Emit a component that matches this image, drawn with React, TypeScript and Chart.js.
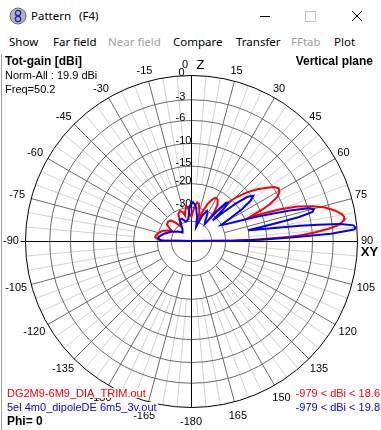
import React, { useEffect, useRef } from "react";
import { Chart, registerables } from "chart.js";

Chart.register(...registerables);

// ---------- data ----------
const NORM_DBI = 19.9;
const ringLevels = [0, -3, -6, -10, -15, -20, -30];
const extraRingLevels = [-40];
const angleLabels = [0, 15, 30, 45, 60, 75, 90, 105, 120, 135, 150, 165, -180, -165, -150, -135, -120, -105, -90, -75, -60, -45, -30, -15];

const redName = "DG2M9-6M9_DIA_TRIM.out";
const blueName = "5el 4m0_dipoleDE 6m5_3v.out";
const redRange = "-979 < dBi < 18.6";
const blueRange = "-979 < dBi < 19.8";
const infoLines = ["Norm-All : 19.9 dBi", "Freq=50.2"];

// elevation angle from zenith (deg) and total gain (dBi)
const redAngles = [90, 89.5, 89, 88.5, 88, 87.5, 87, 86, 85, 84, 83, 82, 81, 80, 78, 76, 74, 72, 70.5, 69.5, 68.5, 67.8, 67, 66, 65, 63, 61, 59, 57, 55, 52, 49, 46, 43, 41, 40, 38.5, 36, 33, 30, 27, 24, 21, 19, 16, 12, 9, 6, 3, 1, -2, -5, -8, -11, -13, -16, -20, -25, -30, -35, -40, -45, -50, -56, -62, -66, -70, -75, -80, -84, -87, -89, -90];
const redGain = [-979, -4.9, 0.6, 4.0, 7.2, 10.1, 12.1, 14.5, 16.3, 17.6, 18.2, 18.6, 18.6, 18.4, 17.6, 16.4, 14.7, 12.4, 9.3, 6.5, 3.5, 1.5, 3.5, 6.0, 7.6, 9.7, 10.5, 10.7, 10.1, 8.9, 7.0, 4.6, 1.5, -2.9, -8.1, -13.2, -8.1, -4.9, -3.3, -2.9, -4.1, -7.1, -12.6, -18.5, -12.6, -8.1, -7.6, -9.6, -13.9, -16.8, -15.3, -10.8, -9.6, -12.6, -15.3, -12.6, -11.3, -12.6, -18.5, -22.3, -16.8, -13.2, -12.6, -13.2, -18.5, -15.3, -12.6, -10.8, -9.6, -9.1, -10.8, -13.9, -979];

const blueAngles = [90, 89.5, 89, 88, 87, 86, 85.5, 84.5, 83.5, 82.7, 82, 81, 80, 79.4, 78.5, 77.5, 76.5, 75.5, 74.5, 73, 71.5, 69.5, 67, 64, 62, 60, 58, 56, 54, 52, 50, 48, 46.5, 45.5, 44, 42.5, 41, 39, 35, 31, 28, 24, 20, 14, 8, 3, -2, -7, -15, -22, -28, -35, -45, -55, -65, -75, -82, -86, -89, -90];
const blueGain = [-979, -7.1, 3.5, 10.3, 16.7, 19.6, 19.8, 19.6, 18.0, 15.0, 12.1, 6.5, 2.1, 0.0, 6.0, 12.1, 14.5, 14.8, 14.1, 11.2, 7.6, 3.0, -2.9, -8.1, -10.2, -4.9, 0.6, 4.0, 5.3, 4.0, 0.0, -7.1, -12.6, -4.9, -1.8, -2.1, -7.1, -18.5, -16.0, -11.3, -10.2, -13.9, -25.7, -16.0, -9.6, -7.6, -9.6, -18.5, -20.3, -16.8, -16.8, -25.7, -30.0, -24.0, -18.5, -13.9, -11.3, -10.8, -12.6, -979];

// ---------- helpers ----------
const LOG_K = -Math.log(0.9) / 2; // log scale: 0.9 per 2 dB
function radiusOf(dBn: number): number {
  if (dBn < -200) return 0;
  return Math.exp(LOG_K * dBn);
}
function toXY(angles: number[], gains: number[]) {
  return angles.map((a, i) => {
    const r = radiusOf(gains[i] - NORM_DBI);
    const t = (a * Math.PI) / 180;
    return { x: r * Math.sin(t), y: r * Math.cos(t) };
  });
}

const FONT = "'Liberation Sans', Arial, sans-serif";

const polarPlugin = {
  id: "polarGrid",
  beforeDatasetsDraw(chart: any) {
    const ctx: CanvasRenderingContext2D = chart.ctx;
    const xs = chart.scales.x;
    const ys = chart.scales.y;
    const cx = Math.floor(xs.getPixelForValue(0)) + 0.5;
    const cy = Math.floor(ys.getPixelForValue(0)) + 0.5;
    const R = xs.getPixelForValue(1) - xs.getPixelForValue(0);
    ctx.save();
    ctx.lineWidth = 1;
    const rLight = radiusOf(-20) * R;
    const rDark = radiusOf(-30) * R;
    ctx.strokeStyle = "#d2d2d2";
    for (let a = 0; a < 360; a += 5) {
      if (a % 15 === 0) continue;
      const t = (a * Math.PI) / 180;
      ctx.beginPath();
      ctx.moveTo(cx + rLight * Math.sin(t), cy - rLight * Math.cos(t));
      ctx.lineTo(cx + R * Math.sin(t), cy - R * Math.cos(t));
      ctx.stroke();
    }
    ctx.strokeStyle = "#6a6a6a";
    for (let a = 0; a < 360; a += 15) {
      if (a % 90 === 0) continue;
      const t = (a * Math.PI) / 180;
      ctx.beginPath();
      ctx.moveTo(cx + rDark * Math.sin(t), cy - rDark * Math.cos(t));
      ctx.lineTo(cx + R * Math.sin(t), cy - R * Math.cos(t));
      ctx.stroke();
    }
    [...ringLevels, ...extraRingLevels].forEach((lv) => {
      if (lv === 0) return;
      ctx.beginPath();
      ctx.arc(cx, cy, radiusOf(lv) * R, 0, Math.PI * 2);
      ctx.stroke();
    });
    ctx.strokeStyle = "#000";
    ctx.beginPath();
    ctx.arc(cx, cy, R, 0, Math.PI * 2);
    ctx.stroke();
    ctx.beginPath();
    ctx.moveTo(cx, cy - R);
    ctx.lineTo(cx, cy + R);
    ctx.moveTo(cx - R - 5, cy);
    ctx.lineTo(cx + R, cy);
    ctx.stroke();
    ctx.fillStyle = "#000";
    ctx.font = `11px ${FONT}`;
    ctx.textBaseline = "middle";
    ctx.textAlign = "left";
    ringLevels.forEach((lv) => {
      const y = cy - radiusOf(lv) * R - 3;
      ctx.fillText(String(lv), cx - (lv === 0 ? 13 : 16), y);
    });
    ctx.restore();
  },
  afterDatasetsDraw(chart: any) {
    const ctx: CanvasRenderingContext2D = chart.ctx;
    const xs = chart.scales.x;
    const ys = chart.scales.y;
    const cx = xs.getPixelForValue(0);
    const cy = ys.getPixelForValue(0);
    const R = xs.getPixelForValue(1) - cx;
    const s = R / 166;
    const W = chart.width;
    ctx.save();
    ctx.textBaseline = "middle";
    ctx.fillStyle = "#000";
    ctx.font = `11px ${FONT}`;
    ctx.textAlign = "center";
    angleLabels.forEach((a) => {
      const t = (a * Math.PI) / 180;
      const sx = Math.sin(t);
      const sy = -Math.cos(t);
      let x: number, y: number;
      if (a === 0) {
        x = cx - 6;
        y = cy - 176 * s;
      } else if (sy > 0.01) {
        x = cx + 181 * s * sx;
        y = cy + 181 * s * sy;
      } else {
        x = cx + (sx < 0 ? 180 : 176) * s * sx;
        y = cy + 176 * s * sy;
      }
      ctx.fillText(String(a), x, y);
    });
    ctx.font = `13px ${FONT}`;
    ctx.fillText("Z", cx + 9.5 * s, cy - 176 * s);
    ctx.font = `bold 13px ${FONT}`;
    ctx.fillText("XY", cx + 178.5 * s, cy + 11 * s);

    const top = chart.chartArea.top - 20;
    ctx.textAlign = "left";
    ctx.font = `bold 12px ${FONT}`;
    ctx.fillText("Tot-gain [dBi]", 5, top + 7);
    ctx.font = `11px ${FONT}`;
    ctx.fillText(infoLines[0], 5, top + 21);
    ctx.fillText(infoLines[1], 5, top + 35);
    ctx.textAlign = "right";
    ctx.font = `bold 12px ${FONT}`;
    ctx.fillText("Vertical plane", W - 8, top + 7);

    const H = chart.height;
    const drawBoxed = (txt: string, x: number, y: number, color: string, align: CanvasTextAlign, font: string) => {
      ctx.font = font;
      const w = ctx.measureText(txt).width;
      const x0 = align === "left" ? x : x - w;
      ctx.fillStyle = "#fff";
      ctx.fillRect(x0 - 1, y - 6, w + 2, 10);
      ctx.fillStyle = color;
      ctx.textAlign = align;
      ctx.fillText(txt, x, y);
    };
    drawBoxed(redName, 7, H - 36, "#ff0000", "left", `11px ${FONT}`);
    drawBoxed(blueName, 7, H - 22, "#0000ff", "left", `11px ${FONT}`);
    drawBoxed("Phi= 0", 7, H - 8, "#000", "left", `bold 12px ${FONT}`);
    drawBoxed(redRange, W - 1, H - 36, "#ff0000", "right", `11px ${FONT}`);
    drawBoxed(blueRange, W - 1, H - 22, "#0000ff", "right", `11px ${FONT}`);
    ctx.restore();
  },
};

function PolarChart() {
  const ref = useRef<HTMLCanvasElement | null>(null);
  useEffect(() => {
    if (!ref.current) return;
    const chart = new Chart(ref.current, {
      type: "scatter",
      data: {
        datasets: [
          {
            label: blueName,
            data: toXY(blueAngles, blueGain),
            showLine: true,
            borderColor: "#0000ff",
            backgroundColor: "#0000ff",
            borderWidth: 2,
            pointRadius: 0,
            tension: 0,
            order: 1,
          },
          {
            label: redName,
            data: toXY(redAngles, redGain),
            showLine: true,
            borderColor: "#ff0000",
            backgroundColor: "#ff0000",
            borderWidth: 2,
            pointRadius: 0,
            tension: 0,
            order: 2,
          },
        ],
      },
      options: {
        animation: false,
        responsive: false,
        devicePixelRatio: 1,
        layout: { padding: { left: 25, right: 24, top: 20, bottom: 23 } },
        scales: {
          x: { type: "linear", min: -1, max: 1, display: false },
          y: { type: "linear", min: -1, max: 1, display: false },
        },
        plugins: { legend: { display: false }, tooltip: { enabled: false } },
      },
      plugins: [polarPlugin],
    });
    return () => chart.destroy();
  }, []);
  return <canvas ref={ref} width={381} height={375} style={{ position: "absolute", left: 0, top: 55, width: 381, height: 375 }} />;
}

const menuItems: { t: string; x: number; dis?: boolean }[] = [
  { t: "Show", x: 9 },
  { t: "Far field", x: 53 },
  { t: "Near field", x: 108, dis: true },
  { t: "Compare", x: 173 },
  { t: "Transfer", x: 236 },
  { t: "FFtab", x: 291, dis: true },
  { t: "Plot", x: 334 },
];

export default function App() {
  const uiFont = "'Noto Sans', 'Open Sans', sans-serif";
  return (
    <div style={{ position: "fixed", left: 0, top: 0, width: 381, height: 430, background: "#fff", overflow: "hidden", fontFamily: uiFont }}>
      <svg width={18} height={18} style={{ position: "absolute", left: 9, top: 7 }}>
        <circle cx={9} cy={9} r={8} fill="#b4b4b4" stroke="#6e6e6e" strokeWidth={1} />
        <circle cx={9} cy={6} r={2.6} fill="none" stroke="#2020e0" strokeWidth={1.3} />
        <circle cx={9} cy={12} r={2.6} fill="none" stroke="#2020e0" strokeWidth={1.3} />
      </svg>
      <div style={{ position: "absolute", left: 31, top: 8, fontSize: 11.5, color: "#000", whiteSpace: "pre", lineHeight: "16px" }}>Pattern</div>
      <div style={{ position: "absolute", left: 79, top: 8, fontSize: 11.5, color: "#000", whiteSpace: "pre", lineHeight: "16px" }}>(F4)</div>
      <svg width={381} height={30} style={{ position: "absolute", left: 0, top: 0 }}>
        <line x1={260} y1={16.5} x2={270} y2={16.5} stroke="#000" strokeWidth={1} />
        <rect x={305.5} y={11.5} width={10} height={10} fill="none" stroke="#c4c4c4" strokeWidth={1} />
        <line x1={352} y1={11} x2={362} y2={21} stroke="#000" strokeWidth={1} />
        <line x1={362} y1={11} x2={352} y2={21} stroke="#000" strokeWidth={1} />
      </svg>
      {menuItems.map((m) => (
        <div key={m.t} style={{ position: "absolute", left: m.x, top: 34, fontSize: 11.5, lineHeight: "16px", whiteSpace: "pre", color: m.dis ? "#a0a0a0" : "#000" }}>
          {m.t}
        </div>
      ))}
      <div style={{ position: "absolute", left: 1, top: 54, width: 1, height: 376, background: "#a0a0a0" }} />
      <PolarChart />
    </div>
  );
}
